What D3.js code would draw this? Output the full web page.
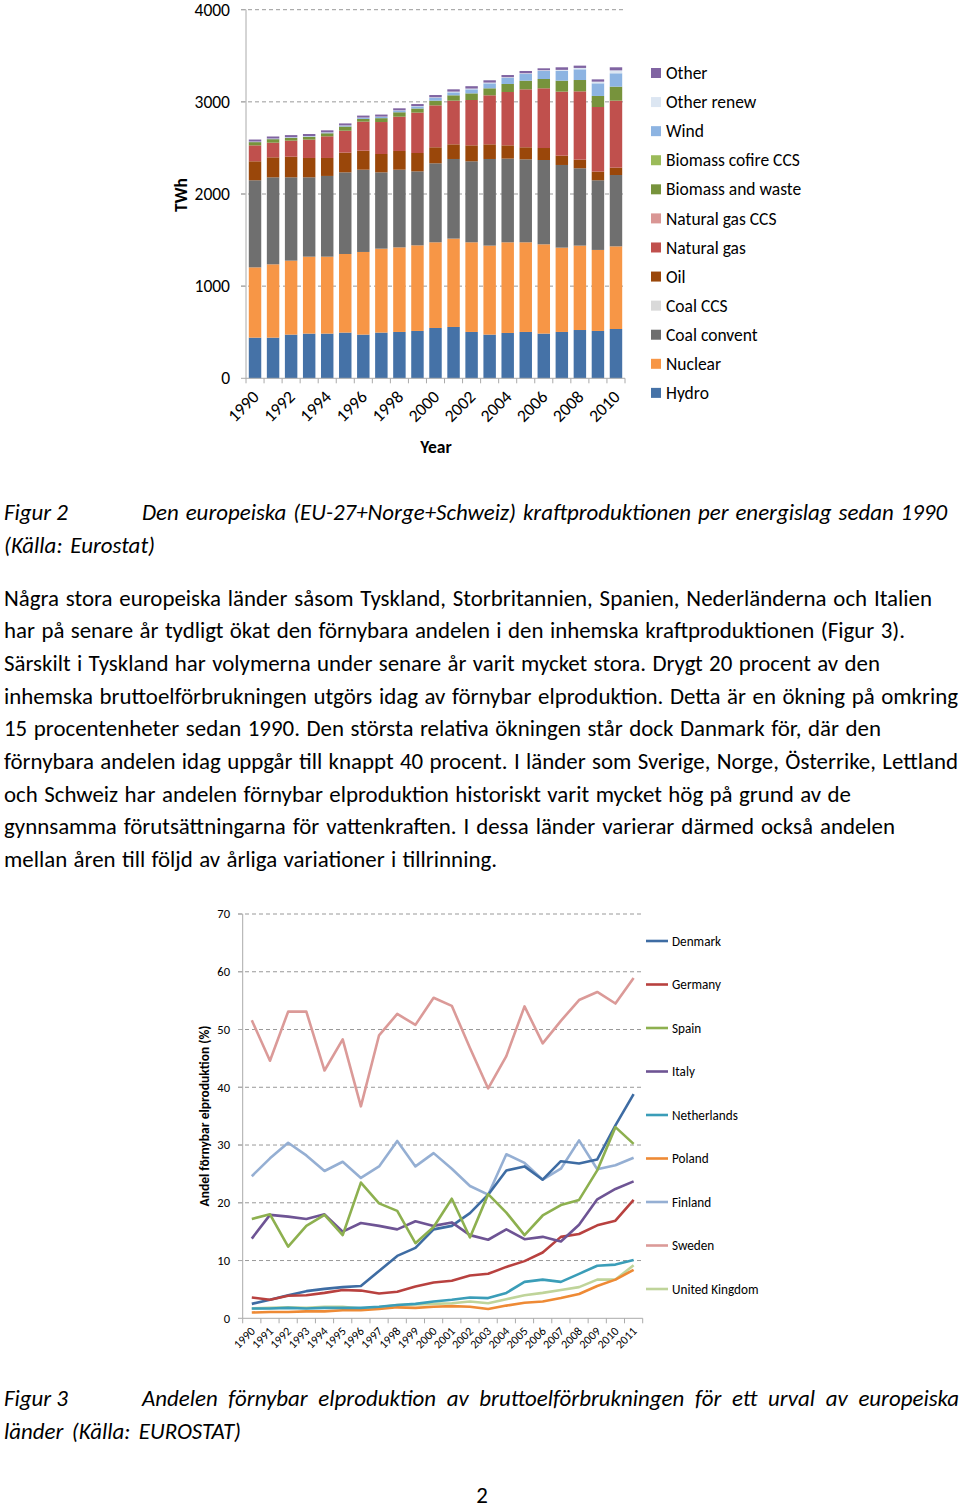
<!DOCTYPE html>
<html><head><meta charset="utf-8">
<script src="https://cdn.jsdelivr.net/npm/d3@7"></script>
<style>body{margin:0;background:#fff}svg{display:block}</style>
</head><body>
<svg id="s" width="960" height="1511"></svg>
<script>
// ---------- DATA: Figure 2 (TWh) ----------
const years = ["1990","1991","1992","1993","1994","1995","1996","1997","1998","1999","2000","2001","2002","2003","2004","2005","2006","2007","2008","2009","2010"];
const yearLabels = ["1990","1992","1994","1996","1998","2000","2002","2004","2006","2008","2010"];
const hydro      = [441,441,474,485,485,496,474,496,503,514,546,557,503,474,492,503,485,503,524,514,535];
const nuclear    = [763,796,803,835,835,853,897,911,918,929,930,959,973,966,984,973,969,915,916,879,897];
const coal       = [945,944,904,861,876,886,893,828,843,803,857,864,879,940,908,900,915,897,839,756,774];
const coalCCS    = [0,0,0,0,0,0,0,0,0,0,0,0,0,0,0,0,0,0,0,0,0];
const oil        = [206,217,224,210,195,214,206,199,203,199,174,159,173,159,144,131,130,101,94,94,80];
const gas        = [173,159,174,199,235,238,315,347,372,438,455,474,492,532,579,629,648,695,741,701,727];
const gasCCS     = [0,0,0,0,0,0,0,0,0,0,0,0,0,0,0,0,0,0,0,0,0];
const biomass    = [35,38,30,30,33,45,30,42,48,45,51,58,72,76,87,94,101,119,123,120,152];
const biomassCCS = [0,0,0,0,0,0,0,0,0,0,0,0,0,0,0,0,0,0,0,0,0];
const wind       = [3,4,5,6,7,9,11,14,18,22,29,32,44,54,65,72,87,105,116,137,145];
const otherRenew = [3,3,3,3,3,3,3,3,3,4,7,8,8,8,8,8,8,12,15,18,32];
const other      = [22,22,22,22,22,22,22,22,22,22,25,25,26,25,24,25,21,28,25,25,33];
const energyKeys = ["Hydro","Nuclear","Coal convent","Coal CCS","Oil","Natural gas","Natural gas CCS","Biomass and waste","Biomass cofire CCS","Wind","Other renew","Other"];
const energyValues = [hydro,nuclear,coal,coalCCS,oil,gas,gasCCS,biomass,biomassCCS,wind,otherRenew,other];
const twhTicks = [0,1000,2000,3000,4000];

// ---------- DATA: Figure 3 (%) ----------
const years2 = ["1990","1991","1992","1993","1994","1995","1996","1997","1998","1999","2000","2001","2002","2003","2004","2005","2006","2007","2008","2009","2010","2011"];
const countries = ["Denmark","Germany","Spain","Italy","Netherlands","Poland","Finland","Sweden","United Kingdom"];
const denmark     = [2.5,3.2,4.0,4.7,5.1,5.4,5.6,8.2,10.8,12.2,15.4,16.0,18.2,21.4,25.6,26.3,24.0,27.2,26.8,27.5,33.4,38.8];
const germany     = [3.6,3.2,3.9,4.0,4.4,4.9,4.8,4.3,4.6,5.5,6.2,6.5,7.4,7.7,8.9,9.9,11.4,14.1,14.6,16.1,16.9,20.5];
const spain       = [17.2,18.0,12.4,16.0,17.9,14.4,23.5,19.9,18.6,13.0,15.8,20.7,14.0,21.5,18.3,14.4,17.8,19.6,20.5,25.6,33.1,30.2];
const italy       = [13.8,17.9,17.6,17.2,18.0,15.0,16.5,16.0,15.4,16.8,16.0,16.6,14.4,13.6,15.4,13.7,14.1,13.3,16.2,20.6,22.4,23.7];
const netherlands = [1.7,1.7,1.8,1.7,1.8,1.8,1.8,2.0,2.3,2.5,2.9,3.2,3.6,3.5,4.4,6.3,6.7,6.3,7.7,9.1,9.3,10.1];
const poland      = [1.0,1.1,1.1,1.2,1.2,1.4,1.4,1.6,1.9,1.8,2.0,2.1,2.0,1.6,2.2,2.7,2.9,3.5,4.2,5.6,6.7,8.4];
const finland     = [24.6,27.7,30.4,28.2,25.5,27.1,24.3,26.3,30.7,26.3,28.6,25.9,22.9,21.4,28.4,26.9,24.0,25.9,30.8,25.8,26.5,27.8];
const sweden      = [51.6,44.6,53.1,53.1,42.9,48.3,36.7,49.0,52.7,50.8,55.5,54.1,46.8,39.8,45.4,54.0,47.6,51.5,55.1,56.5,54.5,58.9];
const uk          = [1.7,1.8,1.9,1.8,2.0,2.0,1.7,1.9,2.3,2.4,2.5,2.6,2.9,2.6,3.3,4.0,4.4,4.9,5.4,6.7,6.7,9.2];
const countryValues = [denmark,germany,spain,italy,netherlands,poland,finland,sweden,uk];
const pctTicks = [0,10,20,30,40,50,60,70];

// ---------- TEXT ----------
const cap2a = "Figur 2";
const cap2b = "Den europeiska (EU-27+Norge+Schweiz) kraftproduktionen per energislag sedan 1990";
const cap2c = "(Källa: Eurostat)";
const bodyLines = [
 "Några stora europeiska länder såsom Tyskland, Storbritannien, Spanien, Nederländerna och Italien",
 "har på senare år tydligt ökat den förnybara andelen i den inhemska kraftproduktionen (Figur 3).",
 "Särskilt i Tyskland har volymerna under senare år varit mycket stora. Drygt 20 procent av den",
 "inhemska bruttoelförbrukningen utgörs idag av förnybar elproduktion. Detta är en ökning på omkring",
 "15 procentenheter sedan 1990. Den största relativa ökningen står dock Danmark för, där den",
 "förnybara andelen idag uppgår till knappt 40 procent. I länder som Sverige, Norge, Österrike, Lettland",
 "och Schweiz har andelen förnybar elproduktion historiskt varit mycket hög på grund av de",
 "gynnsamma förutsättningarna för vattenkraften. I dessa länder varierar därmed också andelen",
 "mellan åren till följd av årliga variationer i tillrinning."
];
const cap3a = "Figur 3";
const cap3b = "Andelen förnybar elproduktion av bruttoelförbrukningen för ett urval av europeiska";
const cap3c = "länder (Källa: EUROSTAT)";

// ---------- DRAW ----------
const FONT = "Carlito, Calibri, Lato, 'Open Sans', sans-serif";
const svg = d3.select("#s").style("font-family", FONT);
const energyColors = ["#4572A7","#F79646","#6F6F6F","#D9D9D9","#9A470A","#C0504D","#D99694","#77933C","#9BBB59","#8DB4E2","#DCE6F2","#8064A2"];
const countryColors = ["#3E6CA3","#B8413F","#8DB04F","#6E5494","#3A9DB8","#EE8A35","#95AFD3","#DB9A98","#BFD49A"];
const gridCol = "#999";
const F1 = 17.5;

// ===== Figure 2 =====
const x1 = d3.scaleBand().domain(years).range([246, 625]).paddingInner(0.31).paddingOuter(0.155);
const y1 = d3.scaleLinear().domain([0, 4000]).range([378.3, 9.7]);
const rows = years.map((yr, i) => { const r = {year: yr}; energyKeys.forEach((k, j) => r[k] = energyValues[j][i]); return r; });
const stack = d3.stack().keys(energyKeys)(rows);
const g1 = svg.append("g");
g1.selectAll("line.grid").data(twhTicks.filter(t => t > 0)).join("line")
  .attr("x1", 241).attr("x2", 625).attr("y1", d => y1(d)).attr("y2", d => y1(d))
  .attr("stroke", gridCol).attr("stroke-dasharray", "4,3").attr("stroke-width", 1);
g1.selectAll("g.s").data(stack).join("g").attr("fill", (d, i) => energyColors[i])
  .selectAll("rect").data(d => d).join("rect")
  .attr("x", d => x1(d.data.year)).attr("width", x1.bandwidth())
  .attr("y", d => y1(d[1])).attr("height", d => Math.max(0, y1(d[0]) - y1(d[1])));
g1.append("line").attr("x1", 246).attr("x2", 246).attr("y1", y1(4000)).attr("y2", y1(0)).attr("stroke", "#aaa");
g1.append("line").attr("x1", 246).attr("x2", 625).attr("y1", y1(0)).attr("y2", y1(0)).attr("stroke", "#aaa");
g1.selectAll("line.yt").data(twhTicks).join("line").attr("x1", 241).attr("x2", 246)
  .attr("y1", d => y1(d)).attr("y2", d => y1(d)).attr("stroke", "#aaa");
g1.selectAll("line.xt").data(years.concat(["end"])).join("line")
  .attr("x1", (d, i) => 246 + i * x1.step()).attr("x2", (d, i) => 246 + i * x1.step())
  .attr("y1", y1(0)).attr("y2", y1(0) + 5).attr("stroke", "#aaa");
g1.selectAll("text.yl").data(twhTicks).join("text")
  .attr("x", 230).attr("y", d => y1(d)).attr("dy", "0.35em").attr("text-anchor", "end")
  .attr("font-size", F1).text(d => d);
g1.selectAll("text.xl").data(yearLabels).join("text")
  .attr("text-anchor", "end").attr("font-size", F1)
  .attr("transform", d => `translate(${x1(d) + x1.bandwidth() / 2 + 5},${398}) rotate(-45)`)
  .text(d => d);
g1.append("text").attr("x", 436).attr("y", 453).attr("text-anchor", "middle")
  .attr("font-size", F1).attr("font-weight", "bold").text("Year");
g1.append("text").attr("transform", "translate(187,195) rotate(-90)").attr("text-anchor", "middle")
  .attr("font-size", F1).attr("font-weight", "bold").text("TWh");
const leg1 = g1.selectAll("g.leg").data(energyKeys.slice().reverse()).join("g")
  .attr("transform", (d, i) => `translate(651,${73 + i * 29.08})`);
leg1.append("rect").attr("x", 0).attr("y", -5).attr("width", 10).attr("height", 10)
  .attr("fill", d => energyColors[energyKeys.indexOf(d)]);
leg1.append("text").attr("x", 15).attr("dy", "0.35em").attr("font-size", F1).text(d => d);

// ===== Figure 3 =====
const x2 = d3.scaleBand().domain(years2).range([242.7, 642.7]);
const y2 = d3.scaleLinear().domain([0, 70]).range([1318.3, 914]);
const g2 = svg.append("g");
g2.selectAll("line.grid").data(pctTicks.filter(t => t > 0)).join("line")
  .attr("x1", 238).attr("x2", 643).attr("y1", d => y2(d)).attr("y2", d => y2(d))
  .attr("stroke", gridCol).attr("stroke-dasharray", "4,3");
g2.append("line").attr("x1", 242.7).attr("x2", 242.7).attr("y1", y2(70)).attr("y2", y2(0)).attr("stroke", "#aaa");
g2.append("line").attr("x1", 242.7).attr("x2", 642.7).attr("y1", y2(0)).attr("y2", y2(0)).attr("stroke", "#aaa");
g2.selectAll("line.yt").data(pctTicks).join("line").attr("x1", 238).attr("x2", 242.7)
  .attr("y1", d => y2(d)).attr("y2", d => y2(d)).attr("stroke", "#aaa");
g2.selectAll("line.xt").data(years2.concat(["end"])).join("line")
  .attr("x1", (d, i) => 242.7 + i * x2.step()).attr("x2", (d, i) => 242.7 + i * x2.step())
  .attr("y1", y2(0)).attr("y2", y2(0) + 5).attr("stroke", "#aaa");
g2.selectAll("text.yl").data(pctTicks).join("text")
  .attr("x", 230).attr("y", d => y2(d)).attr("dy", "0.35em").attr("text-anchor", "end")
  .attr("font-size", 12.5).text(d => d);
g2.selectAll("text.xl").data(years2).join("text")
  .attr("text-anchor", "end").attr("font-size", 12)
  .attr("transform", d => `translate(${x2(d) + x2.bandwidth() / 2 + 4},${1332}) rotate(-45)`)
  .text(d => d);
g2.append("text").attr("transform", "translate(209,1116) rotate(-90)").attr("text-anchor", "middle")
  .attr("font-size", 13.5).attr("font-weight", "bold").text("Andel förnybar elproduktion (%)");
const line = d3.line().x((d, i) => x2(years2[i]) + x2.bandwidth() / 2).y(d => y2(d));
const drawOrder = [7,6,8,5,4,0,1,3,2];
g2.selectAll("path.ln").data(drawOrder).join("path")
  .attr("d", i => line(countryValues[i])).attr("fill", "none")
  .attr("stroke", i => countryColors[i]).attr("stroke-width", 2.6).attr("stroke-linejoin", "round");
const leg2 = g2.selectAll("g.leg").data(countries).join("g")
  .attr("transform", (d, i) => `translate(646,${941 + i * 43.5})`);
leg2.append("line").attr("x1", 0).attr("x2", 22).attr("stroke", (d, i) => countryColors[i]).attr("stroke-width", 2.6);
leg2.append("text").attr("x", 26).attr("dy", "0.35em").attr("font-size", 13.2).text(d => d);

// ===== Text =====
function fitText(sel, target) {
  const len = sel.node().getComputedTextLength();
  const spaces = (sel.text().match(/ /g) || []).length;
  if (spaces > 0) sel.attr("word-spacing", ((target - len) / spaces).toFixed(3));
}
const tg = svg.append("g").attr("fill", "#000");
const probe = tg.append("text").attr("font-size", 20).text(bodyLines[3]);
const fs = 20 * 952 / probe.node().getComputedTextLength() * 0.985;
probe.remove();
const bodyBase = [606, 638, 671, 704, 736, 769, 802, 834, 867];
const bodyEnds = [932, 905, 880, 958, 881, 958, 851, 895, 497];
bodyLines.forEach((t, i) => {
  const s = tg.append("text").attr("x", 4).attr("y", bodyBase[i]).attr("font-size", fs).text(t);
  fitText(s, bodyEnds[i] - 4);
});
function cap(x, y, t, end) {
  const s = tg.append("text").attr("x", x).attr("y", y).attr("font-size", fs).attr("font-style", "italic").text(t);
  if (end) fitText(s, end - x);
  return s;
}
cap(4, 520, cap2a);
cap(142, 520, cap2b, 947);
cap(4, 553, cap2c, 155);
cap(4, 1406, cap3a);
cap(142, 1406, cap3b, 959);
cap(4, 1439, cap3c, 241);
tg.append("text").attr("x", 482).attr("y", 1503).attr("text-anchor", "middle").attr("font-size", fs).text("2");
</script>
</body></html>
